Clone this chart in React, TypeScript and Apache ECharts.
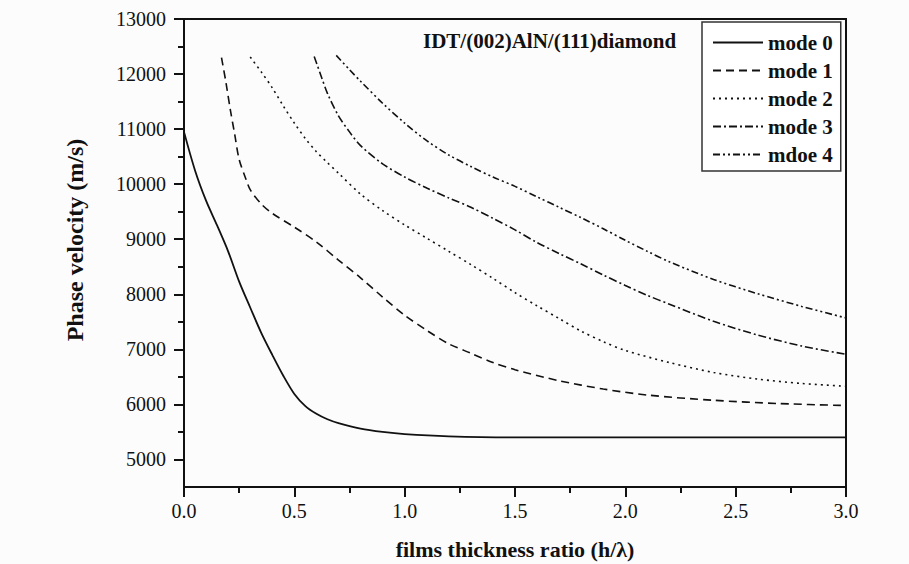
import React, { useEffect, useRef } from "react";
import * as echarts from "echarts";

const seriesNames = ["mode 0", "mode 1", "mode 2", "mode 3", "mdoe 4"];

const yMajorTicks = [5000, 6000, 7000, 8000, 9000, 10000, 11000, 12000, 13000];
const yMinorTicks = [5500, 6500, 7500, 8500, 9500, 10500, 11500, 12500];

const mode0: [number, number][] = [
  [0, 10950], [0.05, 10250], [0.1, 9700], [0.15, 9250], [0.2, 8780], [0.25, 8230],
  [0.3, 7760], [0.35, 7300], [0.4, 6900], [0.45, 6520], [0.5, 6190], [0.55, 5970],
  [0.6, 5830], [0.65, 5730], [0.7, 5660], [0.8, 5560], [0.9, 5500], [1.0, 5460],
  [1.2, 5420], [1.5, 5400], [2.0, 5400], [2.5, 5400], [3.0, 5400],
];
const mode1: [number, number][] = [
  [0.17, 12300], [0.19, 11850], [0.21, 11350], [0.23, 10900], [0.25, 10450], [0.28, 10100],
  [0.3, 9900], [0.35, 9640], [0.4, 9470], [0.5, 9220], [0.6, 8950], [0.7, 8620],
  [0.8, 8300], [0.9, 7950], [1.0, 7620], [1.1, 7345], [1.2, 7100], [1.3, 6930],
  [1.4, 6760], [1.5, 6630], [1.7, 6430], [1.9, 6280], [2.1, 6170], [2.4, 6075],
  [2.7, 6015], [3.0, 5980],
];
const mode2: [number, number][] = [
  [0.3, 12310], [0.35, 12040], [0.4, 11750], [0.45, 11420], [0.5, 11110], [0.55, 10830],
  [0.6, 10590], [0.65, 10390], [0.7, 10200], [0.8, 9820], [0.9, 9520], [1.0, 9260],
  [1.1, 9020], [1.2, 8780], [1.3, 8540], [1.4, 8290], [1.5, 8030], [1.6, 7790],
  [1.7, 7560], [1.8, 7330], [1.9, 7140], [2.0, 6980], [2.2, 6760], [2.4, 6580],
  [2.6, 6460], [2.8, 6380], [3.0, 6330],
];
const mode3: [number, number][] = [
  [0.59, 12320], [0.62, 11980], [0.65, 11650], [0.7, 11240], [0.75, 10950], [0.8, 10700],
  [0.9, 10370], [1.0, 10130], [1.1, 9930], [1.2, 9750], [1.3, 9580], [1.4, 9380],
  [1.5, 9170], [1.6, 8940], [1.7, 8740], [1.8, 8550], [1.9, 8350], [2.0, 8160],
  [2.1, 7980], [2.2, 7820], [2.4, 7510], [2.6, 7260], [2.8, 7060], [3.0, 6910],
];
const mode4: [number, number][] = [
  [0.69, 12340], [0.75, 12080], [0.8, 11870], [0.9, 11470], [1.0, 11110], [1.1, 10790],
  [1.2, 10530], [1.3, 10320], [1.4, 10130], [1.5, 9960], [1.6, 9770], [1.7, 9580],
  [1.8, 9390], [1.9, 9190], [2.0, 8980], [2.1, 8780], [2.2, 8590], [2.4, 8270],
  [2.6, 8010], [2.8, 7780], [3.0, 7570],
];

const seriesData = [mode0, mode1, mode2, mode3, mode4];
const dashTypes: any[] = ["solid", [8, 5], [2, 4], [8, 3, 2, 3], [7, 3, 2, 3, 2, 3]];

const FONT = "Liberation Serif";

export default function App() {
  const ref = useRef<HTMLDivElement>(null);
  useEffect(() => {
    if (!ref.current) return;
    const chart = echarts.init(ref.current, undefined, { renderer: "svg" });
    const yBase = {
      type: "value", min: 4500, max: 13000, interval: 500, position: "left",
      splitLine: { show: false },
    };
    chart.setOption({
      animation: false,
      backgroundColor: "#fcfcfc",
      grid: {
        left: 184, right: 63, top: 19, bottom: 77,
        show: true, borderColor: "#111", borderWidth: 2, backgroundColor: "transparent",
      },
      xAxis: {
        type: "value", min: 0, max: 3, interval: 0.5,
        axisLine: { lineStyle: { color: "#111", width: 2 } },
        axisTick: { show: true, inside: false, length: 10, lineStyle: { color: "#111", width: 2 } },
        minorTick: { show: true, splitNumber: 2, length: 6, lineStyle: { color: "#111", width: 2 } },
        splitLine: { show: false },
        axisLabel: {
          margin: 14, fontFamily: FONT, fontSize: 20, color: "#111",
          formatter: (v: number) => v.toFixed(1),
        },
      },
      yAxis: [
        {
          ...yBase,
          axisLine: { show: true, lineStyle: { color: "#111", width: 2 } },
          axisTick: {
            show: true, inside: false, length: 10, customValues: yMajorTicks,
            lineStyle: { color: "#111", width: 2 },
          },
          axisLabel: {
            margin: 18, fontFamily: FONT, fontSize: 20, color: "#111",
            customValues: yMajorTicks,
            formatter: (v: number) => String(Math.round(v)),
          },
        },
        {
          ...yBase,
          axisLine: { show: false },
          axisTick: {
            show: true, inside: false, length: 6, customValues: yMinorTicks,
            lineStyle: { color: "#111", width: 2 },
          },
          axisLabel: { show: false },
        },
      ],
      legend: {
        orient: "vertical", left: 702, top: 22,
        itemWidth: 50, itemHeight: 14, itemGap: 7, itemStyle: { opacity: 0 },
        padding: [10, 8, 6, 10],
        borderColor: "#333", borderWidth: 1.5, backgroundColor: "#fff",
        textStyle: { fontFamily: FONT, fontWeight: "bold", fontSize: 21, color: "#111" },
        data: seriesNames,
      },
      graphic: [
        {
          type: "text", left: 423, top: 30,
          style: { text: "IDT/(002)AlN/(111)diamond", font: `bold 21px ${FONT}`, fill: "#111" },
        },
        {
          type: "text", x: 75, y: 240, rotation: Math.PI / 2,
          style: {
            text: "Phase velocity (m/s)", font: `bold 24px ${FONT}`, fill: "#111",
            align: "center", verticalAlign: "middle",
          },
        },
        {
          type: "text", x: 515, y: 549,
          style: {
            text: "films thickness ratio (h/\u03bb)", font: `bold 22px ${FONT}`, fill: "#111",
            align: "center", verticalAlign: "middle",
          },
        },
      ],
      series: seriesNames.map((name, i) => ({
        name, type: "line", data: seriesData[i], smooth: 0.3,
        symbol: "none", showSymbol: false,
        lineStyle: { color: "#111", width: i === 0 ? 1.8 : 1.6, type: dashTypes[i] },
        itemStyle: { color: "#111" },
      })),
    });
    return () => chart.dispose();
  }, []);
  return (
    <div
      ref={ref}
      style={{ position: "absolute", left: 0, top: 0, width: 909, height: 564 }}
    />
  );
}
